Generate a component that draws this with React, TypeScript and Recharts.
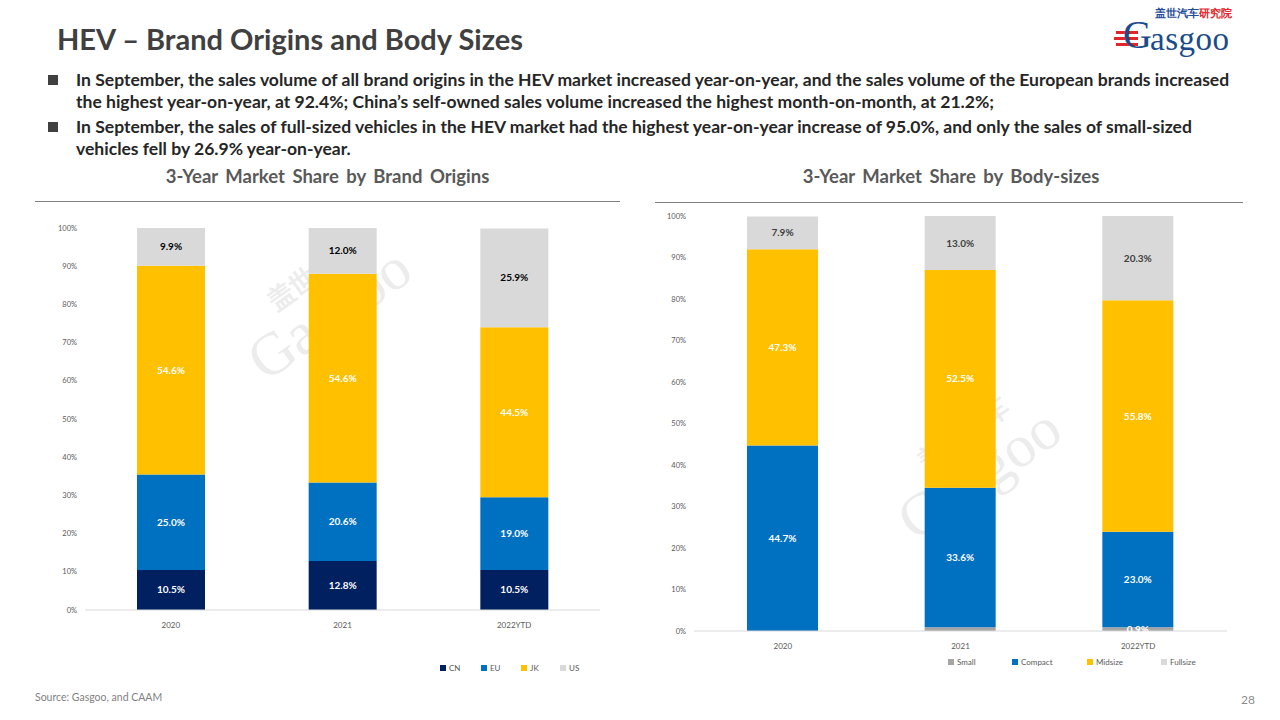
import React from 'react';
import { BarChart, Bar, XAxis, YAxis, Legend, LabelList } from 'recharts';

const categories = ['2020', '2021', '2022YTD'];
const cnShare = [10.5, 12.8, 10.5];
const euShare = [25.0, 20.6, 19.0];
const jkShare = [54.6, 54.6, 44.5];
const usShare = [9.9, 12.0, 25.9];

const smallShare = [0, 0.9, 0.9];
const smallLabels = ['', '', '0.9%'];
const compactShare = [44.7, 33.6, 23.0];
const midsizeShare = [47.3, 52.5, 55.8];
const fullsizeShare = [7.9, 13.0, 20.3];

const yTicks = [0, 10, 20, 30, 40, 50, 60, 70, 80, 90, 100];

const originData = categories.map((c, i) => ({
  year: c,
  CN: cnShare[i],
  EU: euShare[i],
  JK: jkShare[i],
  US: usShare[i],
}));

const sizeData = categories.map((c, i) => ({
  year: c,
  Small: smallShare[i],
  smallLabel: smallLabels[i],
  Compact: compactShare[i],
  Midsize: midsizeShare[i],
  Fullsize: fullsizeShare[i],
}));

const FONT = "Lato, 'Open Sans', 'Liberation Sans', sans-serif";
const fmt = (v: any) => `${Number(v).toFixed(1)}%`;

const makeLegend = (items: { name: string; color: string; w: number }[], padLeft: number) => () => (
  <div style={{ display: 'flex', height: 14, alignItems: 'center', paddingLeft: padLeft, fontFamily: FONT, fontSize: 8, color: '#595959' }}>
    {items.map((it) => (
      <div key={it.name} style={{ width: it.w, display: 'flex', alignItems: 'center' }}>
        <span style={{ display: 'inline-block', width: 6, height: 6, background: it.color, marginRight: 3 }} />
        <span>{it.name}</span>
      </div>
    ))}
  </div>
);

const labelStyle = (fill: string) => ({ fill, fontSize: 10, fontWeight: 700, fontFamily: FONT });

const Watermark = ({ left, top }: { left: number; top: number }) => (
  <div style={{ position: 'absolute', left, top, transform: 'rotate(-35deg)', color: '#ececec', fontFamily: "'Liberation Serif', serif", fontSize: 60, lineHeight: 1, whiteSpace: 'nowrap' }}>
    <div style={{ fontSize: 26, fontFamily: FONT, fontWeight: 700, marginLeft: 50 }}>盖世汽车</div>
    <div>Gasgoo</div>
  </div>
);

export default function App() {
  return (
    <div style={{ position: 'fixed', left: 0, top: 0, width: 1280, height: 720, background: '#fff', fontFamily: FONT, overflow: 'hidden' }}>
      {/* Title */}
      <div style={{ position: 'absolute', left: 57, top: 21, fontSize: 29, fontWeight: 700, color: '#404040', whiteSpace: 'nowrap' }}>
        HEV – Brand Origins and Body Sizes
      </div>
      {/* Logo */}
      <div style={{ position: 'absolute', left: 0, top: 0, width: 1280, height: 60 }}>
        <div style={{ position: 'absolute', left: 1155, top: 8, fontSize: 10.5, fontWeight: 700, whiteSpace: 'nowrap', lineHeight: '11px' }}>
          <span style={{ color: '#1f4e9a' }}>盖世汽车</span><span style={{ color: '#e0262b' }}>研究院</span>
        </div>
        <div style={{ position: 'absolute', left: 1116, top: 31, width: 22, height: 3, background: '#e0262b' }} />
        <div style={{ position: 'absolute', left: 1114, top: 37, width: 24, height: 3, background: '#e0262b' }} />
        <div style={{ position: 'absolute', left: 1116, top: 43, width: 22, height: 3, background: '#e0262b' }} />
        <div style={{ position: 'absolute', left: 1123, top: 15, fontSize: 40, lineHeight: '40px', color: '#1a4b8c', fontFamily: "'Liberation Serif', serif" }}>G</div>
        <div style={{ position: 'absolute', left: 1150, top: 23, fontSize: 33, lineHeight: '33px', color: '#1a4b8c', fontFamily: "'Liberation Serif', serif", letterSpacing: 0.5 }}>asgoo</div>
      </div>
      {/* Bullets */}
      {[
        { y: 69, bullet: true, text: 'In September, the sales volume of all brand origins in the HEV market increased year-on-year, and the sales volume of the European brands increased' },
        { y: 91, bullet: false, text: 'the highest year-on-year, at 92.4%; China’s self-owned sales volume increased the highest month-on-month, at 21.2%;' },
        { y: 116, bullet: true, text: 'In September, the sales of full-sized vehicles in the HEV market had the highest year-on-year increase of 95.0%, and only the sales of small-sized' },
        { y: 138, bullet: false, text: 'vehicles fell by 26.9% year-on-year.' },
      ].map((l, i) => (
        <React.Fragment key={i}>
          {l.bullet && <div style={{ position: 'absolute', left: 48, top: l.y + 6, width: 10, height: 10, background: '#404040' }} />}
          <div style={{ position: 'absolute', left: 76, top: l.y, fontSize: 17.55, fontWeight: 700, color: '#262626', whiteSpace: 'nowrap', lineHeight: '22px' }}>
            {l.text}
          </div>
        </React.Fragment>
      ))}

      {/* Chart titles */}
      <div style={{ position: 'absolute', left: 35, width: 585, top: 165, textAlign: 'center', fontSize: 18.5, fontWeight: 700, color: '#595959', wordSpacing: 3 }}>
        3-Year Market Share by Brand Origins
      </div>
      <div style={{ position: 'absolute', left: 35, top: 201, width: 585, height: 1, background: '#808080' }} />
      <div style={{ position: 'absolute', left: 655, width: 592, top: 165, textAlign: 'center', fontSize: 18.5, fontWeight: 700, color: '#595959', wordSpacing: 3 }}>
        3-Year Market Share by Body-sizes
      </div>
      <div style={{ position: 'absolute', left: 655, top: 202, width: 588, height: 1, background: '#808080' }} />

      <Watermark left={230} top={260} />
      <Watermark left={880} top={420} />

      {/* Left chart */}
      <div style={{ position: 'absolute', left: 0, top: 215 }}>
        <BarChart width={620} height={470} data={originData} margin={{ top: 13, right: 20, bottom: 10, left: 0 }} barSize={68}>
          <XAxis dataKey="year" axisLine={{ stroke: '#d9d9d9' }} tickLine={false} tickMargin={6} height={51}
            tick={{ fontSize: 8, fill: '#595959', fontFamily: FONT }} />
          <YAxis domain={[0, 100]} ticks={yTicks} width={85} axisLine={false} tickLine={false} tickFormatter={(v) => `${v}%`}
            tick={{ fontSize: 7.5, fill: '#595959', fontFamily: FONT }} />
          <Legend verticalAlign="bottom" wrapperStyle={{ left: 0, width: 620 }} content={makeLegend([
            { name: 'CN', color: '#002060', w: 41 },
            { name: 'EU', color: '#0070C0', w: 40 },
            { name: 'JK', color: '#FFC000', w: 39 },
            { name: 'US', color: '#D9D9D9', w: 40 },
          ], 440)} />
          <Bar dataKey="CN" stackId="a" fill="#002060" isAnimationActive={false}>
            <LabelList dataKey="CN" position="center" formatter={fmt} style={labelStyle('#ffffff')} />
          </Bar>
          <Bar dataKey="EU" stackId="a" fill="#0070C0" isAnimationActive={false}>
            <LabelList dataKey="EU" position="center" formatter={fmt} style={labelStyle('#ffffff')} />
          </Bar>
          <Bar dataKey="JK" stackId="a" fill="#FFC000" isAnimationActive={false}>
            <LabelList dataKey="JK" position="center" formatter={fmt} style={labelStyle('#ffffff')} />
          </Bar>
          <Bar dataKey="US" stackId="a" fill="#D9D9D9" isAnimationActive={false}>
            <LabelList dataKey="US" position="center" formatter={fmt} style={labelStyle('#000000')} />
          </Bar>
        </BarChart>
      </div>

      {/* Right chart */}
      <div style={{ position: 'absolute', left: 640, top: 200 }}>
        <BarChart width={620} height={480} data={sizeData} margin={{ top: 16, right: 33, bottom: 11, left: 0 }} barSize={71}>
          <XAxis dataKey="year" axisLine={{ stroke: '#d9d9d9' }} tickLine={false} tickMargin={6} height={24}
            tick={{ fontSize: 8, fill: '#595959', fontFamily: FONT }} />
          <YAxis domain={[0, 100]} ticks={yTicks} width={54} axisLine={false} tickLine={false} tickFormatter={(v) => `${v}%`}
            tick={{ fontSize: 7.5, fill: '#595959', fontFamily: FONT }} />
          <Legend verticalAlign="bottom" wrapperStyle={{ left: 0, width: 620 }} content={makeLegend([
            { name: 'Small', color: '#A5A5A5', w: 64 },
            { name: 'Compact', color: '#0070C0', w: 75 },
            { name: 'Midsize', color: '#FFC000', w: 74 },
            { name: 'Fullsize', color: '#D9D9D9', w: 60 },
          ], 308)} />
          <Bar dataKey="Small" stackId="b" fill="#A5A5A5" isAnimationActive={false}>
            <LabelList dataKey="smallLabel" position="center" style={labelStyle('#ffffff')} />
          </Bar>
          <Bar dataKey="Compact" stackId="b" fill="#0070C0" isAnimationActive={false}>
            <LabelList dataKey="Compact" position="center" formatter={fmt} style={labelStyle('#ffffff')} />
          </Bar>
          <Bar dataKey="Midsize" stackId="b" fill="#FFC000" isAnimationActive={false}>
            <LabelList dataKey="Midsize" position="center" formatter={fmt} style={labelStyle('#ffffff')} />
          </Bar>
          <Bar dataKey="Fullsize" stackId="b" fill="#D9D9D9" isAnimationActive={false}>
            <LabelList dataKey="Fullsize" position="center" formatter={fmt} style={labelStyle('#404040')} />
          </Bar>
        </BarChart>
      </div>

      {/* Footer */}
      <div style={{ position: 'absolute', left: 35, top: 691, fontSize: 10.5, color: '#7f7f7f' }}>Source: Gasgoo, and CAAM</div>
      <div style={{ position: 'absolute', left: 1241, top: 692, fontSize: 12, color: '#8c8c8c' }}>28</div>
    </div>
  );
}
